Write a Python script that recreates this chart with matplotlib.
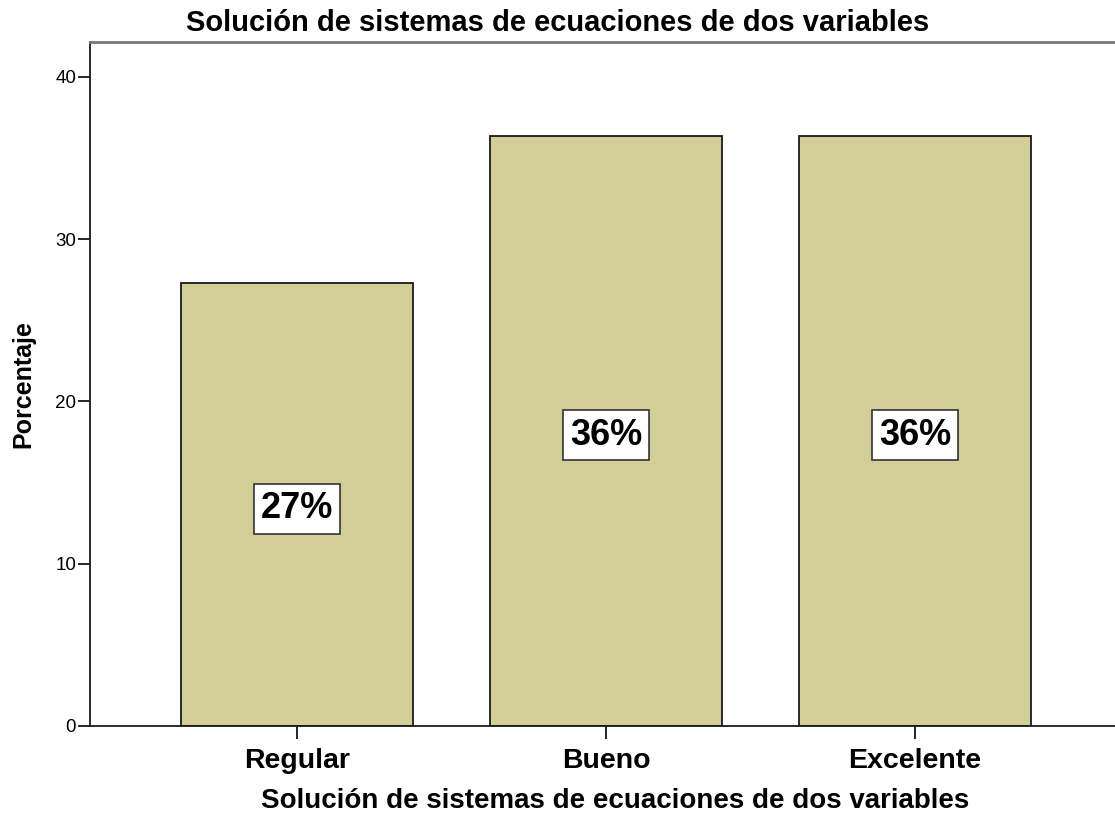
import matplotlib
matplotlib.use("Agg")
import matplotlib.pyplot as plt

categorias = ["Regular", "Bueno", "Excelente"]
porcentajes = [27.27, 36.36, 36.36]
etiquetas = ["27%", "36%", "36%"]
titulo = "Solución de sistemas de ecuaciones de dos variables"

plt.rcParams["font.family"] = ["Liberation Sans", "DejaVu Sans"]

fig = plt.figure(figsize=(11.15, 8.18), dpi=100)
ax = fig.add_axes([0.0807, 0.1125, 0.9193, 0.8363])

x = range(len(categorias))
ax.bar(x, porcentajes, width=0.75, color="#d3cd98", edgecolor="#1a1a1a", linewidth=1.3)

# etiquetas de porcentaje en cajas blancas a media altura de cada barra
for xi, v, t in zip(x, porcentajes, etiquetas):
    ax.annotate(t, (xi, v / 2), xytext=(0, -3), textcoords="offset points",
                ha="center", va="center", fontsize=26, fontweight="bold",
                bbox=dict(boxstyle="square,pad=0.2", facecolor="white",
                          edgecolor="#333333", linewidth=1.2))

ax.set_xlim(-0.67, 2.647)
ax.set_ylim(0, 42.15)
ax.set_yticks([0, 10, 20, 30, 40])
ax.set_xticks(list(x))
ax.set_xticklabels(categorias, fontsize=20.5, fontweight="bold")
ax.tick_params(axis="y", labelsize=13.5, length=9, width=1.2, pad=1)
ax.tick_params(axis="x", length=9.5, width=1.2, pad=6)

ax.spines["right"].set_visible(False)
ax.spines["top"].set_color("#777777")
ax.spines["top"].set_linewidth(2)
for s in ("left", "bottom"):
    ax.spines[s].set_linewidth(1.3)
    ax.spines[s].set_color("#1a1a1a")

ax.set_ylabel("Porcentaje", fontsize=18, fontweight="bold", labelpad=14)
ax.set_xlabel(titulo, fontsize=20, fontweight="bold")
ax.xaxis.set_label_coords(0.512, -0.09)
ax.xaxis.label.set_va("top")
fig.text(0.5, 0.962, titulo, ha="center", va="baseline", fontsize=21, fontweight="bold")

fig.savefig("out.png", dpi=100)
plt.close(fig)
